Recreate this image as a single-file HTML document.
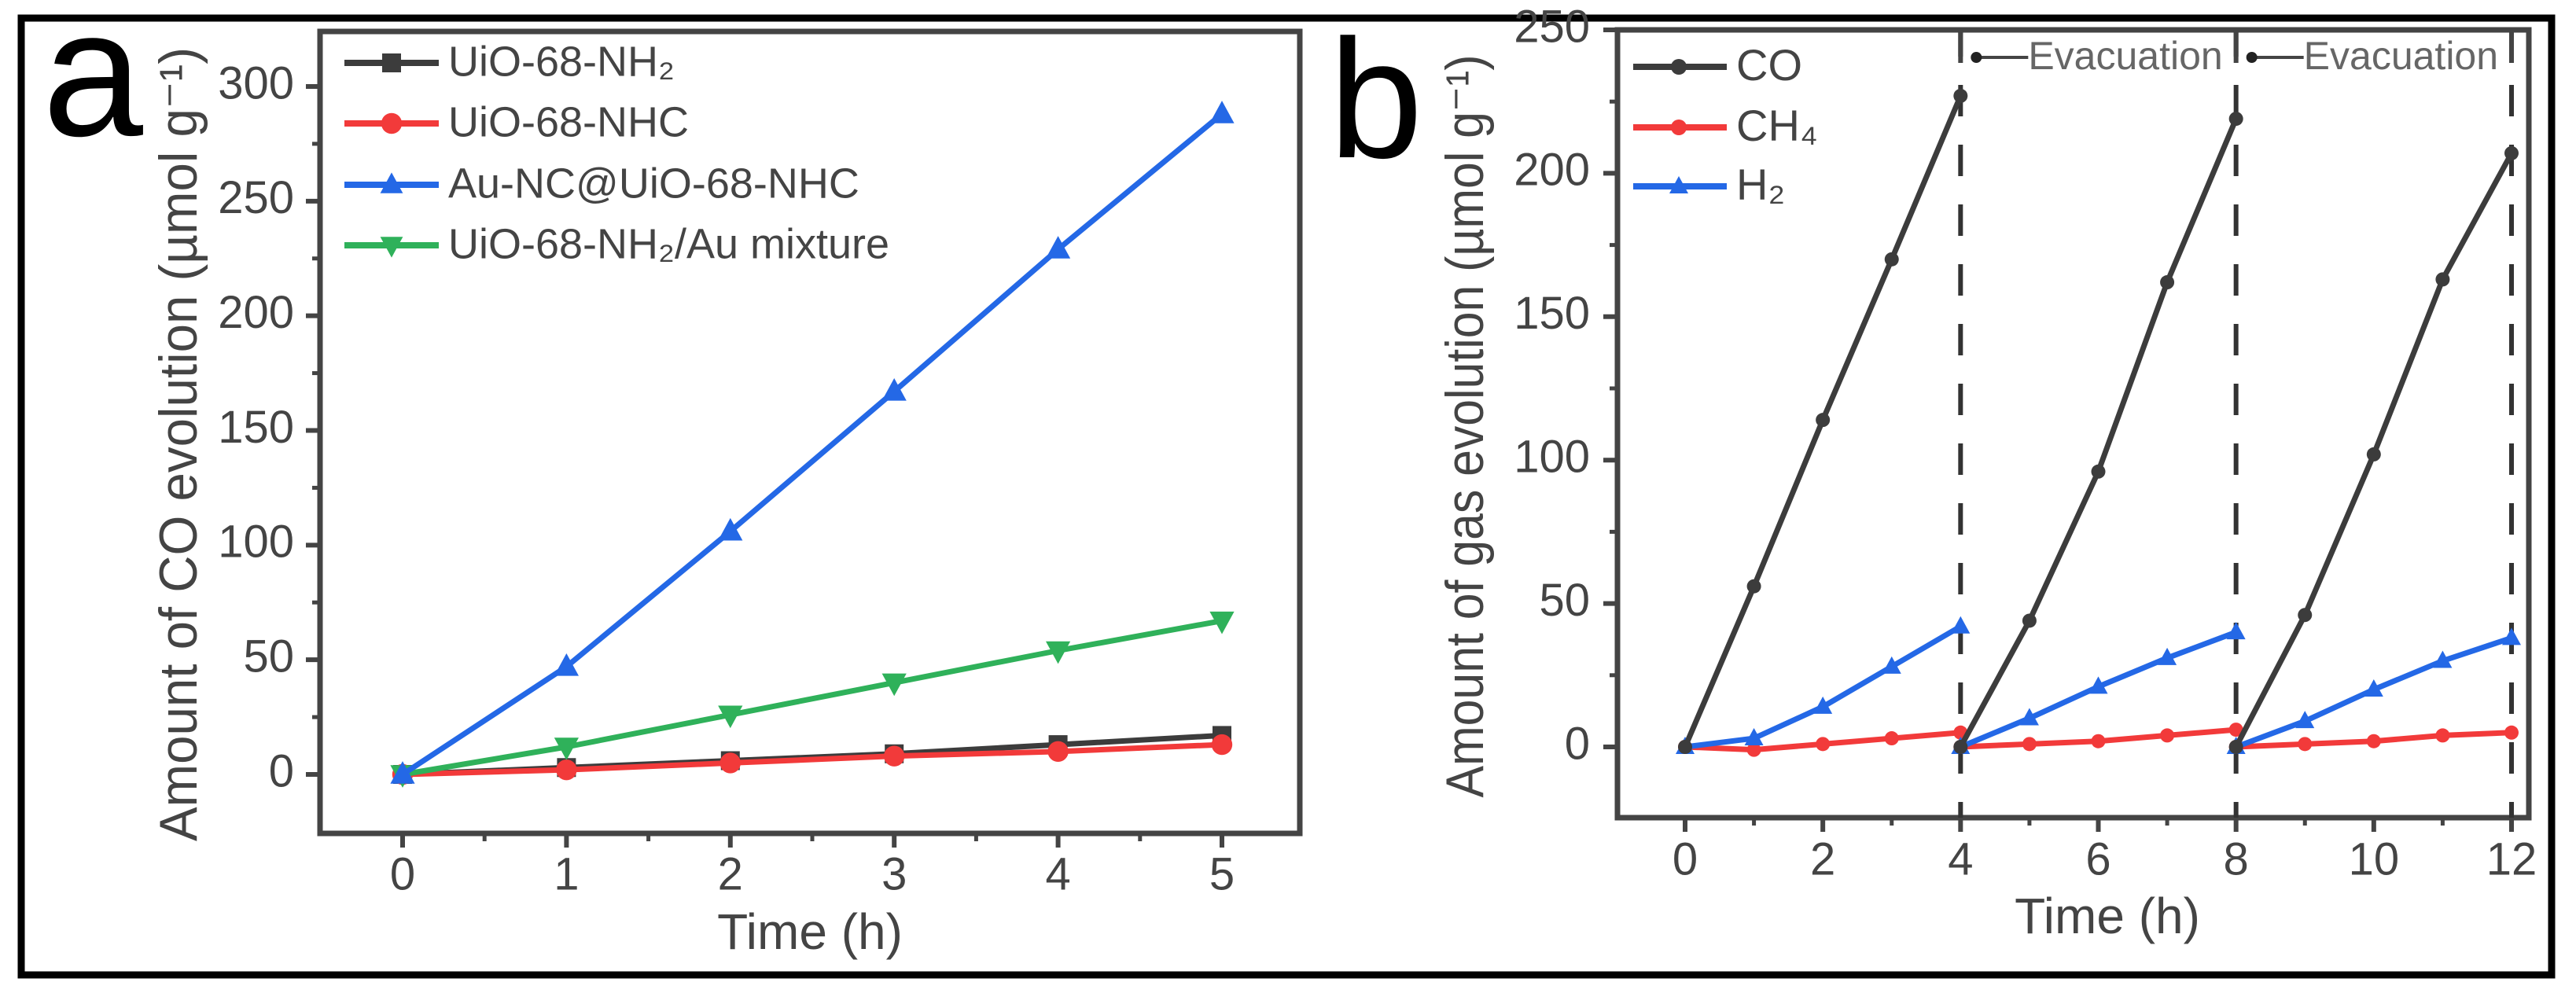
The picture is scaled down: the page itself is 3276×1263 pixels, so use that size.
<!DOCTYPE html>
<html><head><meta charset="utf-8"><style>
html,body{margin:0;padding:0;background:#fff;}
svg{display:block;}
text{font-family:"Liberation Sans",Arial,sans-serif;fill:#444;}
</style></head><body>
<svg id="fig" width="3276" height="1263" viewBox="0 0 3276 1263" xmlns="http://www.w3.org/2000/svg">
<rect x="0" y="0" width="3276" height="1263" fill="#fff"/>
<rect x="27" y="23" width="3218" height="1217" fill="none" stroke="#000" stroke-width="9"/>
<g id="pa"></g>
<g id="pb"></g>
</svg>
<script>
// ---- Panel a data ----
const aTimes = [0,1,2,3,4,5];
const aNH2 = [0,3,6,9,13,17];
const aNHC = [0,2,5,8,10,13];
const aAuNC = [0,47,106,167,229,288];
const aMix = [0,12,26,40,54,67];
const aXTicks = [0,1,2,3,4,5];
const aYTicks = [0,50,100,150,200,250,300];
const aLegend = ["UiO-68-NH\u2082","UiO-68-NHC","Au-NC@UiO-68-NHC","UiO-68-NH\u2082/Au mixture"];
// ---- Panel b data ----
const bSeg1T = [0,1,2,3,4];
const bSeg2T = [4,5,6,7,8];
const bSeg3T = [8,9,10,11,12];
const bCO1 = [0,56,114,170,227];
const bCO2 = [0,44,96,162,219];
const bCO3 = [0,46,102,163,207];
const bCH41 = [0,-1,1,3,5];
const bCH42 = [0,1,2,4,6];
const bCH43 = [0,1,2,4,5];
const bH21 = [0,3,14,28,42];
const bH22 = [0,10,21,31,40];
const bH23 = [0,9,20,30,38];
const bXTicks = [0,2,4,6,8,10,12];
const bYTicks = [0,50,100,150,200,250];
const bEvac = [4,8,12];
const bLegend = ["CO","CH\u2084","H\u2082"];

const NS="http://www.w3.org/2000/svg";
function mk(parent,tag,attrs,txt){const e=document.createElementNS(NS,tag);for(const k in attrs)e.setAttribute(k,attrs[k]);if(txt!==undefined)e.textContent=txt;parent.appendChild(e);return e;}
const COL={black:"#3c3c3c",red:"#f23a3a",blue:"#2468e6",green:"#2fb15a"};

function marker(g,type,x,y,c,s){
  let e;
  if(type==="sq"){e=mk(g,"rect",{x:x-s,y:y-s,width:2*s,height:2*s,fill:c});}
  else if(type==="ci"){e=mk(g,"circle",{cx:x,cy:y,r:s*1.1,fill:c});}
  else if(type==="up"){e=mk(g,"polygon",{points:`${x},${y-s*1.3} ${x-s*1.2},${y+s*0.9} ${x+s*1.2},${y+s*0.9}`,fill:c});}
  else if(type==="dn"){e=mk(g,"polygon",{points:`${x},${y+s*1.3} ${x-s*1.2},${y-s*0.9} ${x+s*1.2},${y-s*0.9}`,fill:c});}
  else {e=mk(g,"circle",{cx:x,cy:y,r:s,fill:c});}
  
  
}
function series(g,xs,ys,X,Y,c,type,s,name){
  const sg=mk(g,"g",{});
  
  
  const pl=mk(sg,"polyline",{points:xs.map((t,i)=>X(t)+","+Y(ys[i])).join(" "),fill:"none",stroke:c,"stroke-width":7,"stroke-linejoin":"round"});
  
  
  xs.forEach((t,i)=>marker(sg,type,X(t),Y(ys[i]),c,s));
}

// ===== Panel a =====
(function(){
  const g=document.getElementById("pa");
  const L=407,R=1653,T=40,B=1060;
  const X=t=>512+(1554-512)*t/5;
  const Y=v=>985-(985-110)*v/300;
  const box=mk(g,"rect",{x:L,y:T,width:R-L,height:B-T,fill:"none",stroke:"#444","stroke-width":7});
  
  
  aXTicks.forEach(t=>{
    mk(g,"line",{x1:X(t),x2:X(t),y1:B,y2:B+18,stroke:"#444","stroke-width":6});
    const tx=mk(g,"text",{x:X(t),y:1116,"font-size":58,"text-anchor":"middle","dominant-baseline":"middle"},String(t));
    
    
  });
  for(let t=0.5;t<5;t+=1) mk(g,"line",{x1:X(t),x2:X(t),y1:B,y2:B+10,stroke:"#444","stroke-width":5});
  aYTicks.forEach(v=>{
    mk(g,"line",{x1:L,x2:L-18,y1:Y(v),y2:Y(v),stroke:"#444","stroke-width":6});
    const tx=mk(g,"text",{x:374,y:Y(v),"font-size":58,"text-anchor":"end","dominant-baseline":"middle"},String(v));
    
    
  });
  for(let v=25;v<300;v+=50) mk(g,"line",{x1:L,x2:L-10,y1:Y(v),y2:Y(v),stroke:"#444","stroke-width":5});
  const xt=mk(g,"text",{x:1030,y:1190,"font-size":64,"text-anchor":"middle","dominant-baseline":"middle"},"Time (h)");
  
  
  const yt=mk(g,"text",{x:0,y:0,"font-size":68,"text-anchor":"middle","dominant-baseline":"middle",textLength:1010,lengthAdjust:"spacingAndGlyphs",transform:"translate(232,565) rotate(-90)"},"Amount of CO evolution (\u00b5mol g\u207b\u00b9)");
  
  
  const lab=mk(g,"text",{x:54,y:172,"font-size":230,fill:"#000",style:"fill:#000"},"a");
  
  
  series(g,aTimes,aNH2,X,Y,COL.black,"sq",12,"series-uio-68-nh2");
  series(g,aTimes,aNHC,X,Y,COL.red,"ci",12,"series-uio-68-nhc");
  series(g,aTimes,aMix,X,Y,COL.green,"dn",13,"series-mixture");
  series(g,aTimes,aAuNC,X,Y,COL.blue,"up",13,"series-au-nc");
  const cols=[COL.black,COL.red,COL.blue,COL.green],types=["sq","ci","up","dn"],ly=[80,157,235,312];
  aLegend.forEach((s,i)=>{
    const lg=mk(g,"g",{});
    
    
    mk(lg,"line",{x1:438,x2:558,y1:ly[i],y2:ly[i],stroke:cols[i],"stroke-width":8});
    marker(lg,types[i],498,ly[i],cols[i],12);
    mk(lg,"text",{x:570,y:ly[i]+2,"font-size":54,"dominant-baseline":"middle"},s);
  });
})();

// ===== Panel b =====
(function(){
  const g=document.getElementById("pb");
  const L=2057,R=3216,T=38,B=1040;
  const X=t=>2143+(3194-2143)*t/12;
  const Y=v=>950-(950-38)*v/250;
  const box=mk(g,"rect",{x:L,y:T,width:R-L,height:B-T,fill:"none",stroke:"#444","stroke-width":7});
  
  
  bXTicks.forEach(t=>{
    mk(g,"line",{x1:X(t),x2:X(t),y1:B,y2:B+18,stroke:"#444","stroke-width":6});
    const tx=mk(g,"text",{x:X(t),y:1097,"font-size":58,"text-anchor":"middle","dominant-baseline":"middle"},String(t));
    
    
  });
  for(let t=1;t<12;t+=2) mk(g,"line",{x1:X(t),x2:X(t),y1:B,y2:B+10,stroke:"#444","stroke-width":5});
  bYTicks.forEach(v=>{
    mk(g,"line",{x1:L,x2:L-18,y1:Y(v),y2:Y(v),stroke:"#444","stroke-width":6});
    const tx=mk(g,"text",{x:2022,y:Y(v),"font-size":58,"text-anchor":"end","dominant-baseline":"middle"},String(v));
    
    
  });
  for(let v=25;v<250;v+=50) mk(g,"line",{x1:L,x2:L-10,y1:Y(v),y2:Y(v),stroke:"#444","stroke-width":5});
  const xt=mk(g,"text",{x:2680,y:1170,"font-size":64,"text-anchor":"middle","dominant-baseline":"middle"},"Time (h)");
  
  
  const yt=mk(g,"text",{x:0,y:0,"font-size":68,"text-anchor":"middle","dominant-baseline":"middle",textLength:945,lengthAdjust:"spacingAndGlyphs",transform:"translate(1868,542) rotate(-90)"},"Amount of gas evolution (\u00b5mol g\u207b\u00b9)");
  
  
  const lab=mk(g,"text",{x:1690,y:200,"font-size":215,style:"fill:#000"},"b");
  
  
  bEvac.forEach((t,i)=>{
    const d=mk(g,"line",{x1:X(t),x2:X(t),y1:T,y2:B,stroke:"#333","stroke-width":6,"stroke-dasharray":"40 36","stroke-dashoffset":-70});
    
    
    mk(g,"line",{x1:X(t),x2:X(t),y1:T,y2:80,stroke:"#444","stroke-width":6});
    if(i<2){
      const ag=mk(g,"g",{});
      
      
      mk(ag,"line",{x1:X(t)+18,x2:X(t)+86,y1:73,y2:73,stroke:"#444","stroke-width":4});
      mk(ag,"circle",{cx:X(t)+20,cy:73,r:7,fill:"#222"});
      mk(ag,"text",{x:X(t)+86,y:75,"font-size":50,"dominant-baseline":"middle",style:"fill:#666"},"Evacuation");
    }
  });
  [[bSeg1T,bCH41],[bSeg2T,bCH42],[bSeg3T,bCH43]].forEach(p=>series(g,p[0],p[1],X,Y,COL.red,"dot",9,"series-ch4"));
  [[bSeg1T,bH21],[bSeg2T,bH22],[bSeg3T,bH23]].forEach(p=>series(g,p[0],p[1],X,Y,COL.blue,"up",10,"series-h2"));
  [[bSeg1T,bCO1],[bSeg2T,bCO2],[bSeg3T,bCO3]].forEach(p=>series(g,p[0],p[1],X,Y,COL.black,"dot",9,"series-co"));
  const cols=[COL.black,COL.red,COL.blue],types=["dot","dot","up"],ly=[85,162,237];
  bLegend.forEach((s,i)=>{
    const lg=mk(g,"g",{});
    
    
    mk(lg,"line",{x1:2077,x2:2196,y1:ly[i],y2:ly[i],stroke:cols[i],"stroke-width":8});
    marker(lg,types[i],2135,ly[i],cols[i],10);
    mk(lg,"text",{x:2208,y:ly[i]+2,"font-size":56,"dominant-baseline":"middle"},s);
  });
})();
</script>
</body></html>
